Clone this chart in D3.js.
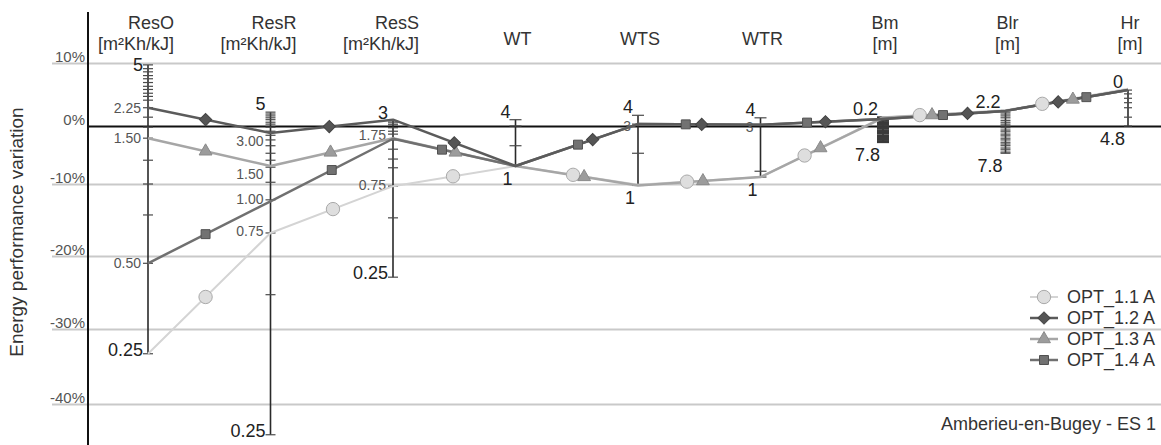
<!DOCTYPE html>
<html>
<head>
<meta charset="utf-8">
<script src="https://cdn.jsdelivr.net/npm/d3@7"></script>
<style>
  body { margin: 0; background: #fff; }
  svg { font-family: "Liberation Sans", Arial, sans-serif; }
</style>
</head>
<body>
<svg id="chart"></svg>
<script>
// parameters (one vertical axis each) and their units
const axes = ["ResO", "ResR", "ResS", "WT", "WTS", "WTR", "Bm", "Blr", "Hr"];
const units = ["[m²Kh/kJ]", "[m²Kh/kJ]", "[m²Kh/kJ]", "", "", "", "[m]", "[m]", "[m]"];

// energy performance variation (%) of each option on each axis
const seriesNames = ["OPT_1.1 A", "OPT_1.2 A", "OPT_1.3 A", "OPT_1.4 A"];
const opt11 = [-33.3, -16.8, -10.3, -6.9, -10.1, -8.8, 1.4, 2.5, 5.9];
const opt12 = [2.9, -1.2, 1.0, -6.9, 0.3, 0.2, 1.1, 2.4, 5.7];
const opt13 = [-2.1, -6.9, -2.1, -6.9, -10.2, -8.8, 1.3, 2.4, 5.7];
const opt14 = [-21.0, -12.4, -2.2, -6.9, 0.3, 0.2, 1.1, 2.4, 5.7];

const yTicks = [10, 0, -10, -20, -30, -40];

// where each parameter value falls on the % scale (tick marks)
const ticksResO = [9.7, 9.1, 8.6, 8.0, 7.5, 6.9, 6.3, 5.8, 5.2, 4.7, 4.1, 2.9, 1.4, -0.2, -2.1, -5.9, -10.0, -14.3, -21.0, -33.3];
const ticksResR = [2.2, 1.9, 1.6, 1.3, 1.0, 0.6, 0.3, -0.2, -0.9, -1.6, -2.4, -3.4, -4.7, -5.9, -7.1, -9.7, -12.2, -16.8, -25.3, -44.1];
const ticksResS = [0.8, 0.5, 0.2, -0.3, -0.9, -1.4, -2.4, -4.0, -5.7, -7.2, -10.3, -14.7, -22.9];
const ticksWT = [1.0, 0.0, -3.4, -6.9];
const ticksWTS = [1.7, 0.3, -4.7, -10.2];
const ticksWTR = [1.3, 0.2, -7.8, -8.8];
const ticksBm = [1.4, 1.2, 1.0, 0.8, 0.6, 0.4, 0.2, 0.0, -0.2, -0.4, -0.7, -0.9, -1.1, -1.3, -1.6, -1.8, -2.0, -2.2, -2.4, -2.6, -2.8];
const ticksBlr = [2.5, 2.2, 1.9, 1.6, 1.3, 0.9, 0.6, 0.3, 0.0, -0.3, -0.7, -1.0, -1.4, -1.7, -2.1, -2.4, -2.8, -3.1, -3.4, -3.8, -4.1, -4.5, -4.7];
const ticksHr = [5.7, 5.1, 4.4, 3.7, 2.9, 1.4, 0.0];

// tick labels: [text, % position]
const labelsResO = [["5", 9.7], ["2.25", 2.9], ["1.50", -2.1], ["0.50", -21.0], ["0.25", -33.3]];
const labelsResR = [["5", 2.2], ["3.00", -2.6], ["1.50", -8.3], ["1.00", -12.1], ["0.75", -16.5], ["0.25", -44.1]];
const labelsResS = [["3", 0.8], ["1.75", -1.6], ["0.75", -10.1], ["0.25", -22.9]];
const labelsWT = [["4", 1.0], ["1", -6.9]];
const labelsWTS = [["4", 1.7], ["3", 0.3], ["1", -10.2]];
const labelsWTR = [["4", 1.3], ["3", 0.2], ["1", -8.8]];
const labelsBm = [["0.2", 1.4], ["7.8", -2.8]];
const labelsBlr = [["2.2", 2.5], ["7.8", -4.7]];
const labelsHr = [["0", 5.7], ["4.8", 0.0]];

const axisTicks = [ticksResO, ticksResR, ticksResS, ticksWT, ticksWTS, ticksWTR, ticksBm, ticksBlr, ticksHr];
const axisLabels = [labelsResO, labelsResR, labelsResS, labelsWT, labelsWTS, labelsWTR, labelsBm, labelsBlr, labelsHr];
const series = [opt11, opt12, opt13, opt14];

// ---- layout / style ----
const W = 1161, H = 445;
const tickHalf = [5, 5, 5, 6, 6, 6, 6, 5, 4];
const styles = [
  { line: "#d4d4d4", w: 2, sym: d3.symbolCircle, size: 140, fill: "#dedede", stroke: "#a9a9a9", rot: 0 },
  { line: "#5b5b5b", w: 2.5, sym: d3.symbolSquare, size: 75, fill: "#555", stroke: "#444", rot: 45 },
  { line: "#a6a6a6", w: 2.5, sym: d3.symbolTriangle, size: 72, fill: "#9c9c9c", stroke: "#8a8a8a", rot: 0 },
  { line: "#707070", w: 2.5, sym: d3.symbolSquare, size: 80, fill: "#727272", stroke: "#505050", rot: 0 }
];
// where the marker sits along each segment between two axes
const markerT = [
  [0.47, 0.51, 0.49, 0.47, 0.40, 0.36, 0.30, 0.30],
  [0.47, 0.48, 0.50, 0.63, 0.52, 0.53, 0.69, 0.43],
  [0.47, 0.49, 0.51, 0.56, 0.53, 0.49, 0.40, 0.55],
  [0.47, 0.50, 0.40, 0.51, 0.39, 0.38, 0.49, 0.66]
];
const drawOrder = [0, 2, 3, 1];

const svg = d3.select("#chart").attr("width", W).attr("height", H);

const y = d3.scaleLinear().domain([10, 0, -10, -20, -30, -40]).range([63, 126, 184, 256, 329, 404]);
const x = d3.scalePoint().domain(axes).range([148, 1128]);

// gridlines + % labels
const gAxis = svg.append("g").attr("transform", "translate(52,0)")
  .call(d3.axisLeft(y).tickValues(yTicks).tickSize(-(W - 52)).tickPadding(-33).tickFormat(d => d + "%"));
gAxis.select(".domain").remove();
gAxis.selectAll(".tick line").attr("stroke", "#c9c9c9").attr("stroke-width", 2);
gAxis.selectAll(".tick text").attr("dy", "-0.12em").attr("fill", "#555").style("font-size", "15px");
gAxis.selectAll(".tick").filter(d => d === 0).select("line")
  .attr("x1", 36).attr("stroke", "#111").attr("stroke-width", 2);

// main vertical axis
svg.append("line").attr("x1", 88).attr("x2", 88).attr("y1", 12).attr("y2", H)
  .attr("stroke", "#111").attr("stroke-width", 2);

svg.append("text")
  .attr("transform", "translate(23,232) rotate(-90)")
  .attr("text-anchor", "middle").attr("fill", "#333").style("font-size", "19px")
  .text("Energy performance variation");

// parameter axes
axes.forEach((name, i) => {
  const ax = x(name);
  const g = svg.append("g");
  const ticks = axisTicks[i];
  g.append("line").attr("x1", ax).attr("x2", ax)
    .attr("y1", y(d3.max(ticks))).attr("y2", y(d3.min(ticks)))
    .attr("stroke", "#2a2a2a").attr("stroke-width", 1.6);
  g.selectAll(".tk").data(ticks).join("line").attr("class", "tk")
    .attr("x1", ax - tickHalf[i]).attr("x2", ax + tickHalf[i])
    .attr("y1", d => y(d)).attr("y2", d => y(d))
    .attr("stroke", i === 6 ? "#3a3a3a" : "#4a4a4a").attr("stroke-width", i === 6 ? 1.8 : 1.2);

  const labs = axisLabels[i];
  const isRes = i < 3;
  labs.forEach((l, j) => {
    const t = g.append("text").attr("text-anchor", "end").text(l[0]);
    if (j === 0) {
      t.attr("x", ax - 5).attr("y", y(l[1]) + (i === 0 ? 6 : -2))
        .attr("fill", "#222").style("font-size", "18px");
    } else if (j === labs.length - 1) {
      t.attr("x", isRes ? ax - 5 : ax - 3).attr("y", y(l[1]) + (isRes ? 2 : 19))
        .attr("fill", "#222").style("font-size", "18px");
    } else {
      t.attr("x", ax - 7).attr("y", y(l[1]) + (i === 4 || i === 5 ? 2 : 0)).attr("dy", "0.35em")
        .attr("fill", "#555").style("font-size", "14px");
    }
  });

  // header
  const hx = isRes ? ax + 26 : ax + 2;
  const anchor = isRes ? "end" : "middle";
  if (units[i]) {
    svg.append("text").attr("x", hx).attr("y", 29).attr("text-anchor", anchor)
      .attr("fill", "#333").style("font-size", "18px").text(name);
    svg.append("text").attr("x", hx).attr("y", 50).attr("text-anchor", anchor)
      .attr("fill", "#333").style("font-size", "18px").text(units[i]);
  } else {
    svg.append("text").attr("x", hx).attr("y", 45).attr("text-anchor", anchor)
      .attr("fill", "#333").style("font-size", "18px").text(name);
  }
});

// series
const line = d3.line().x((d, i) => x(axes[i])).y(d => y(d));
drawOrder.forEach(s => {
  const st = styles[s];
  svg.append("path").datum(series[s]).attr("d", line)
    .attr("fill", "none").attr("stroke", st.line).attr("stroke-width", st.w)
    .attr("stroke-linejoin", "round");
});
drawOrder.forEach(s => {
  const st = styles[s];
  const vals = series[s];
  const pts = d3.range(vals.length - 1).map(k => {
    const t = markerT[s][k];
    const x0 = x(axes[k]), x1 = x(axes[k + 1]);
    const y0 = y(vals[k]), y1 = y(vals[k + 1]);
    return [x0 + t * (x1 - x0), y0 + t * (y1 - y0)];
  });
  svg.append("g").selectAll("path").data(pts).join("path")
    .attr("transform", d => `translate(${d[0]},${d[1]}) rotate(${st.rot})`)
    .attr("d", d3.symbol().type(st.sym).size(st.size))
    .attr("fill", st.fill).attr("stroke", st.stroke).attr("stroke-width", 1);
});

// legend
const leg = svg.append("g");
seriesNames.forEach((n, i) => {
  const st = styles[i];
  const ly = 297 + i * 21;
  leg.append("line").attr("x1", 1030).attr("x2", 1058).attr("y1", ly).attr("y2", ly)
    .attr("stroke", st.line).attr("stroke-width", st.w);
  leg.append("path").attr("transform", `translate(1044,${ly}) rotate(${st.rot})`)
    .attr("d", d3.symbol().type(st.sym).size(st.size))
    .attr("fill", st.fill).attr("stroke", st.stroke);
  leg.append("text").attr("x", 1067).attr("y", ly).attr("dy", "0.35em")
    .attr("fill", "#333").style("font-size", "18px").text(n);
});

svg.append("text").attr("x", 1156).attr("y", 430).attr("text-anchor", "end")
  .attr("fill", "#333").style("font-size", "18px").text("Amberieu-en-Bugey - ES 1");
</script>
</body>
</html>
